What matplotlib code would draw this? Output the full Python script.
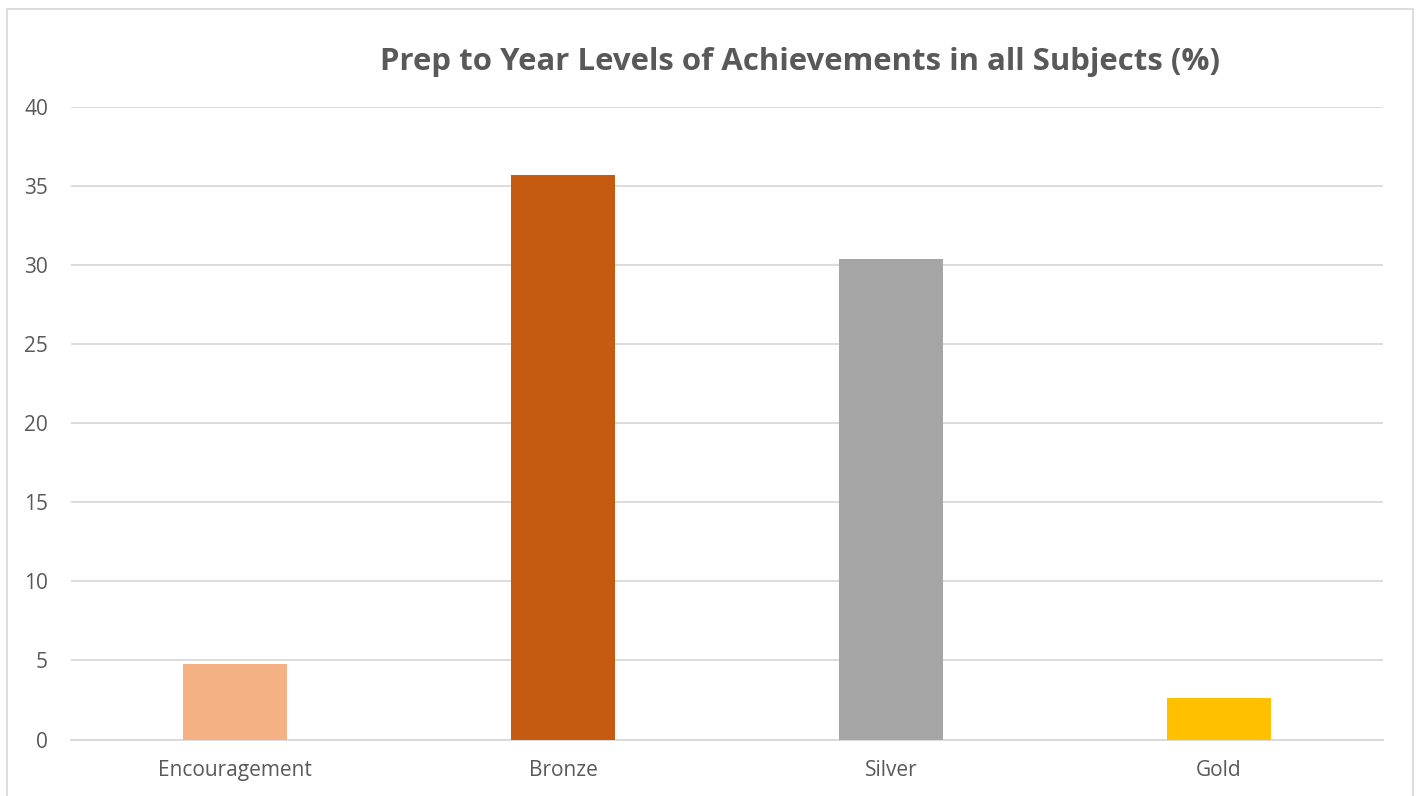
import matplotlib.pyplot as plt
from matplotlib.patches import Rectangle

# Data
categories = ['Encouragement', 'Bronze', 'Silver', 'Gold']
values = [4.8, 35.7, 30.4, 2.6]
colors = ['#F4B183', '#C55A11', '#A5A5A5', '#FFC000']

plt.rcParams['font.family'] = ['Open Sans', 'DejaVu Sans']
text_color = '#595959'

fig = plt.figure(figsize=(14.18, 7.96), dpi=100)
ax = fig.add_axes([71 / 1418, 1 - 739.5 / 796, (1383 - 71) / 1418, (739.5 - 107) / 796])

x = range(len(categories))
ax.bar(x, values, width=0.316, color=colors, zorder=3)

ax.set_xlim(-0.5, len(categories) - 0.5)
ax.set_ylim(0, 40)
ax.set_yticks(range(0, 41, 5))
ax.set_xticks(list(x))
ax.set_xticklabels(categories)

ax.grid(axis='y', color='#D9D9D9', linewidth=1.3, zorder=0)
for s in ['top', 'right', 'left']:
    ax.spines[s].set_visible(False)
ax.spines['bottom'].set_color('#D9D9D9')
ax.spines['bottom'].set_linewidth(1.3)
ax.tick_params(axis='both', length=0, labelsize=15, labelcolor=text_color)
ax.tick_params(axis='y', pad=16.5)
ax.tick_params(axis='x', pad=15)

fig.text(0.564, 1 - 62 / 796, 'Prep to Year Levels of Achievements in all Subjects (%)',
         ha='center', va='center', fontsize=22.4, fontweight='bold', color=text_color)

# outer chart border
fig.patches.append(Rectangle((7 / 1418, -0.05), 1406 / 1418, 1.05 - 9 / 796,
                             transform=fig.transFigure, fill=False,
                             edgecolor='#D9D9D9', linewidth=1.3))

fig.savefig('out.png', dpi=100)
